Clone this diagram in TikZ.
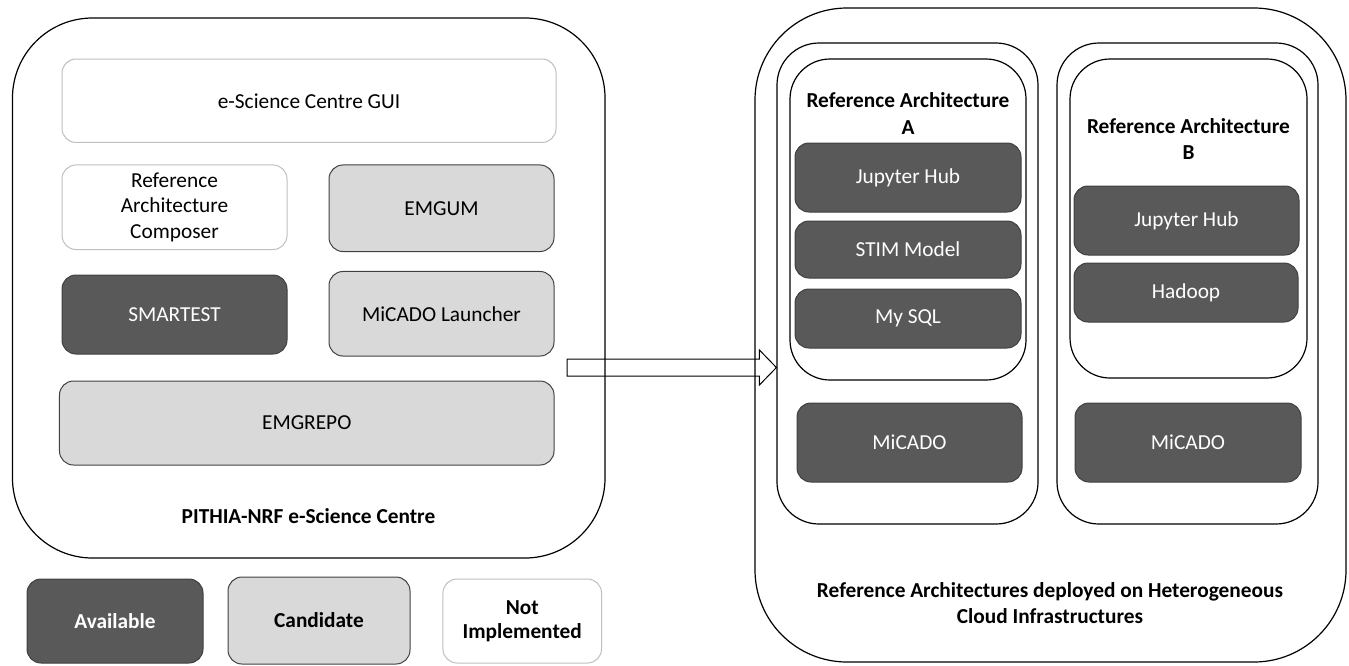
\documentclass[tikz,border=0pt]{standalone}
\usepackage{fontspec}
\setmainfont{Carlito}
\usetikzlibrary{calc}
\definecolor{availgray}{HTML}{595959}
\definecolor{candgray}{HTML}{D9D9D9}
\definecolor{edgegray}{HTML}{BFBFBF}
\begin{document}
\begin{tikzpicture}[x=0.75pt,y=-0.75pt,
every node/.style={font=\fontsize{16}{19}\selectfont,align=center},
avail/.style={draw=black!75,fill=availgray,text=white,rounded corners=10.5pt,line width=0.75pt},
cand/.style={draw=black!75,fill=candgray,rounded corners=10.5pt,line width=0.75pt},
notimpl/.style={draw=edgegray,fill=white,rounded corners=10.5pt,line width=0.75pt},
frame/.style={draw,line width=0.9pt},
title/.style={font=\fontsize{16}{20}\selectfont\bfseries}]
\useasboundingbox (0,0) rectangle (1349,665);

% e-Science Centre
\node[frame,rounded corners=60pt,
minimum width=444.4pt,minimum height=405pt](centre) at (308.75,288){};

\node[notimpl,minimum width=370.5pt,minimum height=62.6pt](gui) at (309,100.75){e-Science Centre GUI};

\node[notimpl,minimum width=168.75pt,minimum height=63.4pt](composer) at (174.5,207.25){Reference\\Architecture\\Composer};

\node[cand,minimum width=168.75pt,minimum height=64.9pt](emgum) at (441.5,208.25){EMGUM};

\node[avail,minimum width=168.75pt,minimum height=59.25pt](smartest) at (174.5,314.5){SMARTEST};

\node[cand,minimum width=168.75pt,minimum height=63.4pt](launcher) at (441.5,313.75){MiCADO Launcher};

\node[cand,minimum width=370.9pt,minimum height=63pt](emgrepo) at (306.75,423){EMGREPO};

\node[title](centretitle) at (308.5,516){PITHIA-NRF e-Science Centre};

% legend
\node[avail,title,minimum width=132pt,minimum height=63pt](available) at (115,621){Available};
\node[cand,title,minimum width=136.5pt,minimum height=65.25pt](candidate) at (319,620.5){Candidate};
\node[notimpl,title,font=\fontsize{16}{18}\selectfont\bfseries,
minimum width=118.9pt,minimum height=63pt](notimplemented) at (522.25,621){Not\\Implemented};

% clouds
\node[frame,rounded corners=69pt,
minimum width=443.25pt,minimum height=490.5pt](cloud) at (1050.5,335){};

\node[frame,rounded corners=31.5pt,
minimum width=195.75pt,minimum height=360.75pt](colA) at (907.5,283.5){};
\node[frame,rounded corners=31.5pt,
minimum width=195.75pt,minimum height=360.75pt](colB) at (1187.5,283.5){};

\node[frame,rounded corners=30pt,
minimum width=177pt,minimum height=240.75pt](raA) at (908,219.5){};
\node[frame,rounded corners=30pt,
minimum width=177.75pt,minimum height=239.25pt](raB) at (1188.5,218.5){};

\node[title](raAtitle) at (908,113.5){Reference Architecture\\A};
\node[title](raBtitle) at (1188.5,139){Reference Architecture\\B};

\node[avail,minimum width=169.5pt,minimum height=51.75pt](hubA) at (908,177.5){Jupyter Hub};
\node[avail,minimum width=169.5pt,minimum height=42.75pt](stim) at (908,249.5){STIM Model};
\node[avail,minimum width=169.5pt,minimum height=44.25pt](mysql) at (908,318.5){My SQL};
\node[avail,minimum width=168.75pt,minimum height=59.25pt](micadoA) at (909.5,442.5){MiCADO};

\node[avail,minimum width=168.75pt,minimum height=51.75pt](hubB) at (1186.5,220.5){Jupyter Hub};
\node[avail,minimum width=168pt,minimum height=44.25pt](hadoop) at (1186,292.5){Hadoop};
\node[avail,minimum width=169.5pt,minimum height=59.25pt](micadoB) at (1188,442.5){MiCADO};

\node[title,font=\fontsize{16}{19.5}\selectfont\bfseries](cloudtitle) at (1050,603){Reference Architectures deployed on Heterogeneous\\Cloud Infrastructures};

% deploy arrow
\coordinate (arrS) at (567,367.5);
\draw[line width=0.75pt] ($(arrS)+(0,-8.5)$) -- ($(colA.west|-arrS)+(-17,-8.5)$)
-- ++(0,-9) -- (colA.west|-arrS) -- ++(-17,17.5) -- ++(0,-9) -- ($(arrS)+(0,8.5)$) -- cycle;
\end{tikzpicture}
\end{document}
